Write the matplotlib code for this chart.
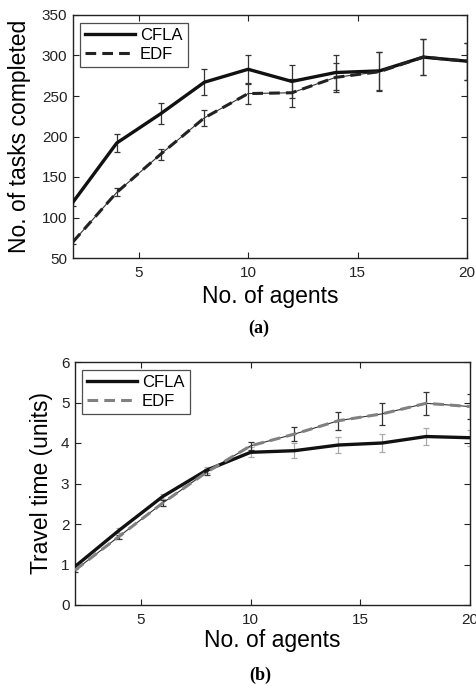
import matplotlib
matplotlib.use("Agg")
import matplotlib.pyplot as plt
from matplotlib.lines import Line2D

plt.rcParams['font.family'] = ['Liberation Sans', 'DejaVu Sans']

# ---- data ----
agents = [2, 4, 6, 8, 10, 12, 14, 16, 18, 20]

tasks_cfla = [119, 192, 228, 267, 283, 268, 279, 281, 298, 293]
tasks_cfla_err = [5, 11, 13, 16, 18, 20, 21, 23, 22, 23]
tasks_edf = [70, 131, 178, 223, 253, 254, 273, 280, 298, 293]
tasks_edf_err = [3, 5, 7, 10, 13, 17, 18, 24, 22, 23]

travel_cfla = [0.95, 1.84, 2.68, 3.33, 3.77, 3.81, 3.95, 4.00, 4.16, 4.13]
travel_cfla_err = [0.04, 0.05, 0.06, 0.08, 0.12, 0.18, 0.19, 0.22, 0.20, 0.20]
travel_edf = [0.86, 1.69, 2.52, 3.28, 3.93, 4.22, 4.55, 4.72, 4.98, 4.90]
travel_edf_err = [0.04, 0.05, 0.07, 0.08, 0.10, 0.17, 0.22, 0.27, 0.28, 0.30]

xticks = [5, 10, 15, 20]
yticks_a = [50, 100, 150, 200, 250, 300, 350]
yticks_b = [0, 1, 2, 3, 4, 5, 6]

W, H = 477, 686
fig = plt.figure(figsize=(W / 100, H / 100), dpi=100)

def px_axes(l, t, r, b):
    return fig.add_axes([l / W, 1 - b / H, (r - l) / W, (b - t) / H])

axa = px_axes(73, 15, 467, 258)
axb = px_axes(75, 362, 470, 605)

def style(ax):
    ax.set_xlim(2, 20)
    ax.set_xticks(xticks)
    ax.tick_params(direction='in', top=True, right=True, length=4, width=0.8,
                   labelsize=11, colors='#222222')
    ax.tick_params(axis='x', pad=6)
    ax.tick_params(axis='y', pad=4)
    for s in ax.spines.values():
        s.set_linewidth(1.0)
        s.set_color('#222222')

dash = (3.5, 2.0)

def add_legend(ax, handles):
    leg = ax.legend(handles, ['CFLA', 'EDF'], loc='upper left', bbox_to_anchor=(0.018, 0.968),
                    fontsize=12, frameon=True, fancybox=False, edgecolor='#222222',
                    handlelength=3.0, handletextpad=0.3, borderpad=0.3, labelspacing=0.25,
                    borderaxespad=0)
    leg.get_frame().set_linewidth(0.9)

# ---- (a) ----
axa.errorbar(agents, tasks_cfla, yerr=tasks_cfla_err, color='#333333', lw=0.8,
             capsize=2.5, elinewidth=0.9, capthick=0.9, zorder=2)
axa.plot(agents, tasks_cfla, color='#111111', lw=2.4, zorder=3)
axa.errorbar(agents, tasks_edf, yerr=tasks_edf_err, color='#333333', lw=0.8,
             capsize=2.5, elinewidth=0.9, capthick=0.9, zorder=2)
axa.plot(agents, tasks_edf, color='#222222', lw=2.2, dashes=dash, zorder=3)
axa.set_ylim(50, 350)
axa.set_yticks(yticks_a)
style(axa)
add_legend(axa, [Line2D([], [], color='#111111', lw=2.4),
                 Line2D([], [], color='#222222', lw=2.2, dashes=dash)])

# ---- (b) ----
axb.errorbar(agents, travel_cfla, yerr=travel_cfla_err, color='#aaaaaa', lw=0.8,
             capsize=2.5, elinewidth=0.9, capthick=0.9, zorder=2)
axb.plot(agents, travel_cfla, color='#111111', lw=2.4, zorder=3)
axb.errorbar(agents, travel_edf, yerr=travel_edf_err, color='#333333', lw=0.8,
             capsize=2.5, elinewidth=0.9, capthick=0.9, zorder=2)
axb.plot(agents, travel_edf, color='#808080', lw=2.2, dashes=dash, zorder=3)
axb.set_ylim(0, 6)
axb.set_yticks(yticks_b)
style(axb)
add_legend(axb, [Line2D([], [], color='#111111', lw=2.4),
                 Line2D([], [], color='#808080', lw=2.2, dashes=dash)])

# ---- labels ----
fig.text(270 / W, 1 - 303 / H, 'No. of agents', ha='center', va='baseline', fontsize=16.5)
fig.text(272 / W, 1 - 647 / H, 'No. of agents', ha='center', va='baseline', fontsize=16.5)
fig.text(20 / W, 1 - 136 / H, 'No. of tasks completed', ha='center', va='center',
         rotation=90, fontsize=16.5)
fig.text(42 / W, 1 - 483 / H, 'Travel time (units)', ha='center', va='center',
         rotation=90, fontsize=16.5)
fig.text(259 / W, 1 - 333 / H, '(a)', ha='center', va='baseline', fontsize=13,
         fontweight='bold', family='Liberation Serif')
fig.text(260 / W, 1 - 680 / H, '(b)', ha='center', va='baseline', fontsize=13,
         fontweight='bold', family='Liberation Serif')

fig.savefig('out.png', dpi=100)
